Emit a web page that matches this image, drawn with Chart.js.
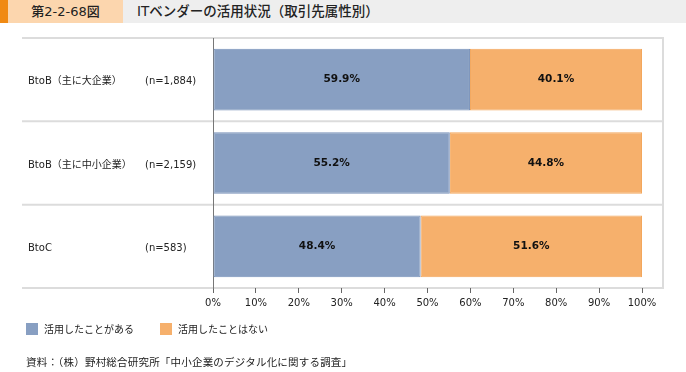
<!DOCTYPE html>
<html lang="ja">
<head>
<meta charset="utf-8">
<script src="https://cdn.jsdelivr.net/npm/chart.js@4.4.1/dist/chart.umd.min.js"></script>
<style>
  html, body { margin: 0; padding: 0; background: #fff; }
  body { width: 686px; height: 372px; position: relative; overflow: hidden;
         font-family: "DejaVu Sans", "Noto Sans CJK JP", sans-serif; color: #222; }
  #header { position: absolute; left: 0; top: 0; width: 686px; height: 23px; background: #eeeeee; }
  #header .strip { position: absolute; left: 0; top: 0; width: 8px; height: 23px; background: #f08a14; }
  #header .num { position: absolute; left: 8px; top: 0; width: 115px; height: 23px; background: #fcd6ae;
                 font-size: 13px; line-height: 23px; text-align: center; font-weight: 500; }
  #header .title { position: absolute; left: 137px; top: 0; height: 23px; font-size: 13.5px; line-height: 23px; font-weight: 500; }
  #wrap { position: absolute; left: 0; top: 0; width: 686px; height: 372px; }
  #source { position: absolute; left: 26px; top: 355px; font-size: 10.5px; line-height: 14px; letter-spacing: 0.2px; }
</style>
</head>
<body>
<div id="wrap"><canvas id="grafica"></canvas></div>
<div id="header">
  <div class="strip"></div>
  <div class="num">第2-2-68図</div>
  <div class="title">ITベンダーの活用状況（取引先属性別）</div>
</div>
<div id="source">資料：（株）野村総合研究所「中小企業のデジタル化に関する調査」</div>
<script>
const categorias = ["BtoB（主に大企業）", "BtoB（主に中小企業）", "BtoC"];
const muestras = ["(n=1,884)", "(n=2,159)", "(n=583)"];
const seriesNombres = ["活用したことがある", "活用したことはない"];
const usado = [59.9, 55.2, 48.4];
const noUsado = [40.1, 44.8, 51.6];
const ticksX = [0, 10, 20, 30, 40, 50, 60, 70, 80, 90, 100];

const fuente = '"DejaVu Sans", "Noto Sans CJK JP", sans-serif';
const gris = '#dcdcdc';

// marco, separadores y etiquetas de filas
const marcoPlugin = {
  id: 'marco',
  beforeDraw(chart) {
    const { ctx, chartArea, scales } = chart;
    const y = scales.y;
    const banda = y.getPixelForValue(1) - y.getPixelForValue(0);
    const derecha = chartArea.right + 21;
    ctx.save();
    ctx.strokeStyle = gris;
    ctx.lineWidth = 2;
    for (let i = 0; i <= categorias.length; i++) {
      const py = y.getPixelForValue(i) - banda / 2;
      ctx.beginPath();
      ctx.moveTo(22, py);
      ctx.lineTo(derecha, py);
      ctx.stroke();
    }
    ctx.beginPath();
    ctx.moveTo(derecha, chartArea.top - 1);
    ctx.lineTo(derecha, chartArea.bottom + 1);
    ctx.stroke();

    ctx.fillStyle = '#222';
    ctx.font = '10px ' + fuente;
    ctx.textBaseline = 'middle';
    ctx.textAlign = 'left';
    categorias.forEach((c, i) => {
      const py = y.getPixelForValue(i);
      ctx.fillText(c, 28, py + 2);
      ctx.fillText(muestras[i], 145, py + 2);
    });
    ctx.restore();
  },
  afterDatasetsDraw(chart) {
    const { ctx } = chart;
    ctx.save();
    ctx.fillStyle = '#111';
    ctx.font = 'bold 10.5px ' + fuente;
    ctx.textAlign = 'center';
    ctx.textBaseline = 'middle';
    chart.data.datasets.forEach((ds, di) => {
      chart.getDatasetMeta(di).data.forEach((bar, i) => {
        const p = bar.getCenterPoint();
        ctx.fillText(ds.data[i].toFixed(1) + '%', p.x, p.y);
      });
    });
    // leyenda
    const posX = [26, 160];
    const top = 323;
    ctx.font = '10px ' + fuente;
    ctx.textAlign = 'left';
    chart.data.datasets.forEach((ds, di) => {
      ctx.fillStyle = ds.backgroundColor;
      ctx.fillRect(posX[di], top, 12, 12);
      ctx.fillStyle = '#222';
      ctx.fillText(ds.label, posX[di] + 18, top + 7);
    });
    ctx.restore();
  }
};

const ctx = document.getElementById('grafica').getContext('2d');
const chart = new Chart(ctx, {
  type: 'bar',
  data: {
    labels: categorias,
    datasets: [
      {
        label: seriesNombres[0],
        data: usado,
        backgroundColor: '#889fc2',
        borderColor: '#7790b9',
        borderWidth: 1,
        borderSkipped: false,
        categoryPercentage: 1,
        barPercentage: 0.74
      },
      {
        label: seriesNombres[1],
        data: noUsado,
        backgroundColor: '#f6b06c',
        borderColor: '#f3a75c',
        borderWidth: 1,
        borderSkipped: false,
        categoryPercentage: 1,
        barPercentage: 0.74
      }
    ]
  },
  options: {
    indexAxis: 'y',
    responsive: true,
    maintainAspectRatio: false,
    animation: false,
    layout: { padding: { top: 38, left: 0, right: 44, bottom: 64 } },
    plugins: { legend: { display: false }, tooltip: { enabled: false } },
    scales: {
      x: {
        stacked: true,
        min: 0,
        max: 100,
        afterBuildTicks: (s) => { s.ticks = ticksX.map(v => ({ value: v })); },
        afterFit: (s) => { s.height = 20; },
        grid: { display: true, drawOnChartArea: false, drawTicks: true, tickLength: 5, color: '#666' },
        border: { display: false },
        ticks: {
          padding: 4,
          color: '#222',
          font: { family: fuente, size: 10 },
          callback: v => v + '%'
        }
      },
      y: {
        stacked: true,
        afterFit: (s) => { s.width = 213; },
        grid: { display: false },
        border: { display: true, color: '#777', width: 1 },
        ticks: { display: false }
      }
    }
  },
  plugins: [marcoPlugin]
});
</script>
</body>
</html>
